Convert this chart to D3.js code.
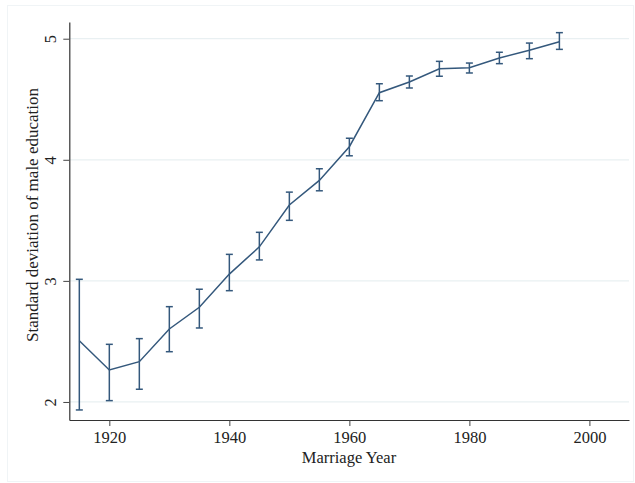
<!DOCTYPE html>
<html><head><meta charset="utf-8">
<script src="https://cdn.jsdelivr.net/npm/d3@7"></script>
<style>body{margin:0;background:#fff}svg{display:block}</style>
</head><body>
<script>
const years = [1915,1920,1925,1930,1935,1940,1945,1950,1955,1960,1965,1970,1975,1980,1985,1990,1995];
const means = [2.506,2.264,2.333,2.603,2.782,3.056,3.281,3.627,3.830,4.108,4.554,4.642,4.752,4.761,4.841,4.904,4.975];
const upper = [3.013,2.476,2.523,2.787,2.931,3.219,3.401,3.733,3.926,4.178,4.628,4.692,4.813,4.799,4.888,4.964,5.050];
const lower = [1.934,2.011,2.105,2.415,2.611,2.919,3.173,3.500,3.744,4.033,4.488,4.593,4.690,4.717,4.794,4.835,4.912];
const xTicks = [1920,1940,1960,1980,2000];
const yTicks = [2,3,4,5];
const xTitle = "Marriage Year";
const yTitle = "Standard deviation of male education";

const W=635,H=483;
const svg=d3.select("body").append("svg").attr("width",W).attr("height",H);
const font="'Liberation Serif','DejaVu Serif',serif";
const col="#34587c";

svg.append("rect").attr("x",7.5).attr("y",5.5).attr("width",626).attr("height",476)
  .attr("fill","none").attr("stroke","#f0f4f6");

const x=d3.scaleLinear().domain([1913.33,2006.6]).range([69.3,629]);
const y=d3.scaleLinear().domain([1.851,5.138]).range([420,22]);

// gridlines
svg.append("g").selectAll("line").data(yTicks).join("line")
  .attr("x1",70).attr("x2",629).attr("y1",d=>y(d)).attr("y2",d=>y(d))
  .attr("stroke","#e9f0f2").attr("stroke-width",1.2);

// axes
const xa=svg.append("g").attr("transform","translate(0,420)")
  .call(d3.axisBottom(x).tickValues(xTicks).tickFormat(d3.format("d")).tickSizeInner(6).tickSizeOuter(0).tickPadding(5));
const ya=svg.append("g").attr("transform","translate(69.3,0)")
  .call(d3.axisLeft(y).tickValues(yTicks).tickFormat(d3.format("d")).tickSizeInner(6).tickSizeOuter(0).tickPadding(0));
[xa,ya].forEach(a=>{
  a.select(".domain").attr("stroke","#333").attr("stroke-width",1.2);
  a.selectAll(".tick line").attr("stroke","#444");
  a.selectAll("text").attr("font-family",font).attr("font-size",16.5).attr("fill","#222");
});
ya.selectAll(".tick text").attr("text-anchor","middle").attr("x",0).attr("dy",0)
  .attr("transform","translate(-13,0) rotate(-90)").attr("y",0);

svg.append("text").attr("x",349).attr("y",463).attr("text-anchor","middle")
  .attr("font-family",font).attr("font-size",16.5).attr("fill","#222").text(xTitle);
svg.append("text").attr("transform","translate(38,215) rotate(-90)").attr("text-anchor","middle")
  .attr("font-family",font).attr("font-size",17).attr("fill","#222").text(yTitle);

// line
const data=years.map((yr,i)=>({yr,m:means[i],u:upper[i],l:lower[i]}));
svg.append("path").datum(data).attr("fill","none").attr("stroke",col).attr("stroke-width",1.5)
  .attr("d",d3.line().x(d=>x(d.yr)).y(d=>y(d.m)));

// error bars
const eb=svg.append("g").attr("stroke",col).attr("stroke-width",1.5);
eb.selectAll(".v").data(data).join("line")
  .attr("x1",d=>x(d.yr)).attr("x2",d=>x(d.yr)).attr("y1",d=>y(d.u)).attr("y2",d=>y(d.l));
eb.selectAll(".t").data(data).join("line")
  .attr("x1",d=>x(d.yr)-3.5).attr("x2",d=>x(d.yr)+3.5).attr("y1",d=>y(d.u)).attr("y2",d=>y(d.u));
eb.selectAll(".b").data(data).join("line")
  .attr("x1",d=>x(d.yr)-3.5).attr("x2",d=>x(d.yr)+3.5).attr("y1",d=>y(d.l)).attr("y2",d=>y(d.l));
</script>
</body></html>
